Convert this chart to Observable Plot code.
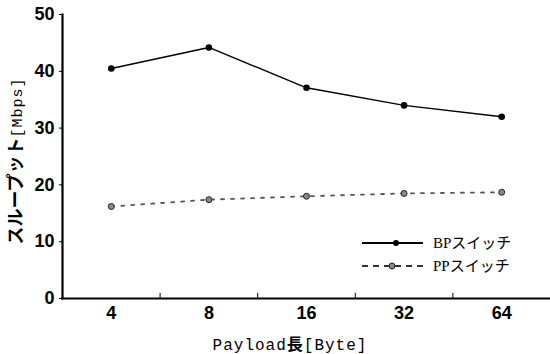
<!DOCTYPE html>
<html><head><meta charset="utf-8">
<script src="https://cdn.jsdelivr.net/npm/d3@7"></script>
<script src="https://cdn.jsdelivr.net/npm/@observablehq/plot@0.6"></script>
<style>body{margin:0;background:#fff}#c{position:relative;width:550px;height:354px}</style>
</head><body><div id="c"></div>
<script>
const payloads = ["4","8","16","32","64"];
const bpValues = [40.5, 44.2, 37.1, 34.0, 32.0];
const ppValues = [16.2, 17.4, 18.0, 18.5, 18.7];
const yTicks = [0,10,20,30,40,50];
const seriesNames = ["BPスイッチ","PPスイッチ"];

const bp = payloads.map((p,i)=>({i, v:bpValues[i]}));
const pp = payloads.map((p,i)=>({i, v:ppValues[i]}));
const bounds = payloads.slice(1).map((p,i)=>i+0.5);

const chart = Plot.plot({
  width:550, height:354,
  marginLeft:62, marginTop:14, marginBottom:56, marginRight:0,
  style:{background:"#fff", color:"#000"},
  x:{domain:[-0.5,4.5]},
  y:{domain:[0,50]},
  marks:[
    Plot.axisY({ticks:yTicks, tickSize:3, tickPadding:5, label:null,
      fontSize:18, fontWeight:"bold", fontFamily:"Liberation Sans, Arial, sans-serif"}),
    Plot.axisX({ticks:payloads.map((p,i)=>i), tickFormat:i=>payloads[i], tickSize:0, tickPadding:8, label:null,
      fontSize:18, fontWeight:"bold", fontFamily:"Liberation Sans, Arial, sans-serif"}),
    Plot.ruleX(bounds, {y1:0, y2:0.9, stroke:"#000", strokeWidth:1}),
    Plot.frame({anchor:"left", stroke:"#000", strokeWidth:2.2}),
    Plot.frame({anchor:"bottom", stroke:"#000", strokeWidth:2.2}),
    Plot.line(pp, {x:"i", y:"v", stroke:"#555", strokeWidth:1.8, strokeDasharray:"3,7"}),
    Plot.dot(pp, {x:"i", y:"v", r:3, fill:"#888", stroke:"#222", strokeWidth:1}),
    Plot.line(bp, {x:"i", y:"v", stroke:"#000", strokeWidth:1.4}),
    Plot.dot(bp, {x:"i", y:"v", r:3.3, fill:"#000"})
  ]
});
document.getElementById("c").appendChild(chart);

const svg = d3.select(chart);
// y label
const yl = svg.append("text")
  .attr("transform","translate(22,161) rotate(-90)")
  .attr("text-anchor","middle").attr("fill","#000");
yl.append("tspan").attr("font-family","Noto Sans CJK JP, sans-serif").attr("font-size",18).attr("font-weight","bold").text("スループット");
yl.append("tspan").attr("font-family","Liberation Mono, monospace").attr("font-size",15).attr("letter-spacing",1).text("[Mbps]");
// x label
svg.append("text").attr("x",290).attr("y",350).attr("text-anchor","middle")
  .attr("font-family","Liberation Mono, DejaVu Sans Mono, monospace").attr("font-size",16).attr("letter-spacing",1).attr("fill","#000")
  .call(t=>{
    t.append("tspan").text("Payload");
    t.append("tspan").attr("font-family","Noto Sans CJK JP, sans-serif").attr("font-weight","bold").text("長");
    t.append("tspan").text("[Byte]");
  });
// legend
const lg = svg.append("g").attr("text-anchor","start");
const items = [{y:243, dash:null, fill:"#000", stroke:"none"},{y:266, dash:"6,5", fill:"#888", stroke:"#222"}];
items.forEach((it,k)=>{
  lg.append("line").attr("x1",362).attr("x2",423).attr("y1",it.y).attr("y2",it.y)
    .attr("stroke",k?"#333":"#000").attr("stroke-width",k?2:1.8).attr("stroke-dasharray",it.dash);
  lg.append("circle").attr("cx",k?392:396).attr("cy",it.y).attr("r",3).attr("fill",it.fill).attr("stroke",it.stroke);
  lg.append("text").attr("x",433).attr("y",it.y+5).attr("font-size",15)
    .attr("font-family","Liberation Serif, Noto Sans CJK JP, serif").attr("fill","#000").text(seriesNames[k]);
});
</script></body></html>
